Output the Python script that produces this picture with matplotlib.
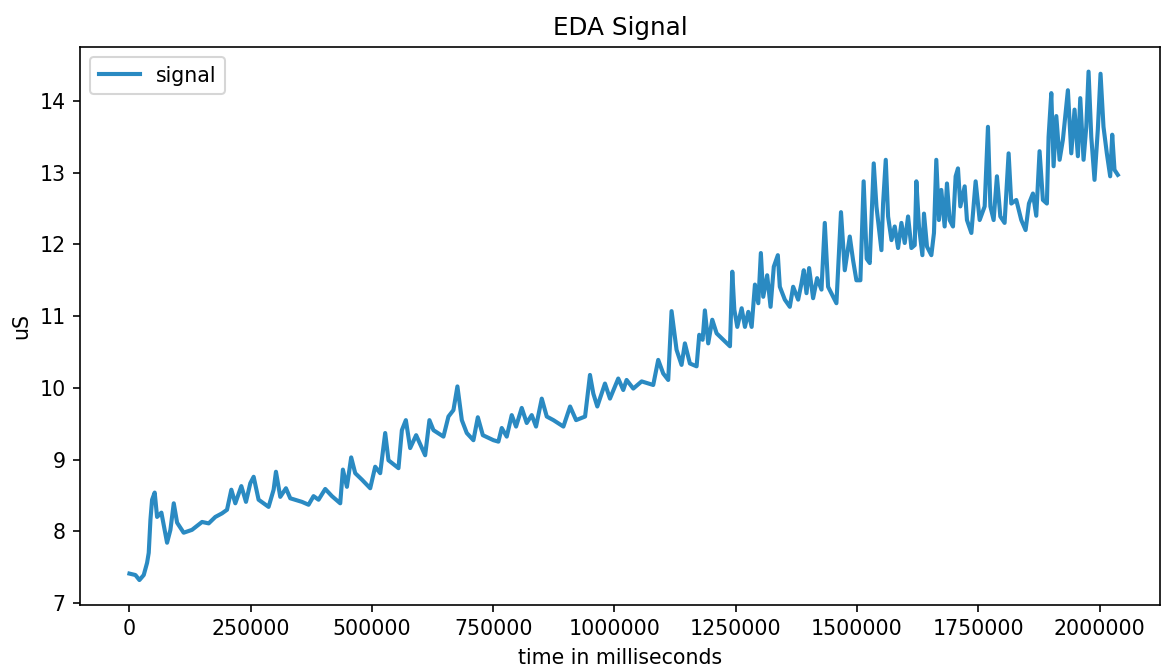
import matplotlib
matplotlib.use("Agg")
import matplotlib.pyplot as plt
from matplotlib.ticker import ScalarFormatter

time_ms = [
    0, 12400, 20600, 29500, 36400, 39800, 43300, 46700, 52100, 57000,
    65900, 77600, 84500, 91400, 98300, 111800, 129000, 149700, 163400, 177100,
    190900, 201200, 210100, 218300, 230700, 240300, 249200, 256100, 266300, 286900,
    297300, 302100, 311000, 322700, 331600, 355700, 369300, 379600, 389900, 403700,
    417500, 434600, 440100, 448400, 457200, 465500, 479300, 496400, 506700, 517000,
    527300, 534100, 554700, 561700, 569900, 578800, 591100, 609700, 618500, 626800,
    647400, 657700, 668000, 676200, 685300, 695500, 709200, 718300, 728600, 750500,
    760700, 767600, 777900, 788200, 797100, 808800, 819100, 829400, 838300, 850100,
    860400, 874100, 894700, 908500, 920900, 939400, 949500, 956400, 964600, 980400,
    990700, 1007800, 1018100, 1025000, 1038800, 1056000, 1079900, 1090200, 1100500, 1110800,
    1117700, 1128000, 1138300, 1145200, 1155500, 1169300, 1174800, 1181700, 1186400, 1193300,
    1201600, 1210600, 1224400, 1238100, 1242900, 1247100, 1253200, 1262200, 1269000, 1275900,
    1282800, 1289600, 1296500, 1301800, 1306700, 1314800, 1321800, 1328500, 1336800, 1340900,
    1351200, 1361500, 1368400, 1378700, 1385600, 1390300, 1395900, 1401300, 1409500, 1417800,
    1426800, 1433600, 1440400, 1457600, 1467000, 1474800, 1485100, 1491900, 1498800, 1507000,
    1513700, 1520000, 1526300, 1534500, 1540100, 1550400, 1553800, 1559300, 1564100, 1571100,
    1577800, 1584700, 1591600, 1598400, 1605300, 1612200, 1619000, 1622400, 1627800, 1634800,
    1638100, 1644300, 1653300, 1658700, 1663500, 1668900, 1673800, 1680700, 1685500, 1691000,
    1697900, 1703400, 1708200, 1713100, 1722000, 1726700, 1735800, 1744600, 1752900, 1763200,
    1770000, 1775000, 1781700, 1788500, 1795500, 1804300, 1812600, 1818100, 1828400, 1838700,
    1847600, 1854500, 1862700, 1869600, 1876400, 1883300, 1891500, 1895000, 1900600, 1905300,
    1910900, 1917700, 1924500, 1934800, 1941800, 1948500, 1955400, 1960300, 1967100, 1972700,
    1977400, 1983000, 1989700, 1996500, 2002100, 2008200, 2015100, 2022000, 2026200, 2030900,
    2037700,
]

eda_us = [
    7.41, 7.39, 7.32, 7.39, 7.56, 7.70, 8.16, 8.44, 8.54, 8.20,
    8.26, 7.84, 8.02, 8.39, 8.12, 7.98, 8.02, 8.13, 8.11, 8.20,
    8.25, 8.30, 8.58, 8.39, 8.63, 8.41, 8.67, 8.76, 8.44, 8.34,
    8.58, 8.83, 8.48, 8.60, 8.46, 8.41, 8.37, 8.49, 8.44, 8.59,
    8.49, 8.39, 8.86, 8.62, 9.03, 8.81, 8.72, 8.60, 8.90, 8.81,
    9.37, 8.99, 8.88, 9.41, 9.55, 9.16, 9.34, 9.06, 9.55, 9.41,
    9.32, 9.60, 9.69, 10.02, 9.55, 9.37, 9.27, 9.59, 9.34, 9.27,
    9.25, 9.44, 9.32, 9.62, 9.46, 9.72, 9.51, 9.62, 9.46, 9.85,
    9.60, 9.55, 9.46, 9.74, 9.55, 9.60, 10.18, 9.92, 9.74, 10.06,
    9.85, 10.13, 9.97, 10.11, 9.99, 10.09, 10.04, 10.39, 10.20, 10.11,
    11.07, 10.53, 10.32, 10.62, 10.34, 10.30, 10.74, 10.67, 11.08, 10.62,
    10.95, 10.76, 10.67, 10.58, 11.62, 11.09, 10.85, 11.11, 10.85, 11.06,
    10.85, 11.44, 11.18, 11.88, 11.27, 11.57, 11.13, 11.69, 11.85, 11.41,
    11.23, 11.13, 11.41, 11.23, 11.46, 11.64, 11.32, 11.67, 11.25, 11.53,
    11.37, 12.30, 11.41, 11.18, 12.45, 11.64, 12.11, 11.78, 11.50, 11.50,
    12.88, 11.80, 11.74, 13.13, 12.53, 11.92, 12.57, 13.18, 12.39, 12.06,
    12.25, 11.95, 12.30, 12.02, 12.39, 11.95, 11.99, 12.88, 12.25, 11.85,
    12.43, 11.97, 11.85, 12.16, 13.18, 12.34, 12.76, 12.25, 12.85, 12.34,
    12.25, 12.95, 13.06, 12.53, 12.81, 12.34, 12.16, 12.88, 12.34, 12.53,
    13.64, 12.53, 12.34, 12.95, 12.39, 12.30, 13.27, 12.57, 12.62, 12.34,
    12.20, 12.57, 12.71, 12.40, 13.30, 12.62, 12.57, 13.50, 14.11, 13.09,
    13.79, 13.18, 13.46, 14.15, 13.27, 13.88, 13.23, 14.04, 13.18, 13.64,
    14.41, 13.50, 12.90, 13.60, 14.38, 13.64, 13.27, 12.95, 13.53, 13.04,
    12.97,
]

x_ticks = [0, 250000, 500000, 750000, 1000000, 1250000, 1500000, 1750000, 2000000]
y_ticks = [7, 8, 9, 10, 11, 12, 13, 14]

DPI = 148
fig = plt.figure(figsize=(1163 / DPI, 669 / DPI), dpi=DPI)
ax = fig.add_axes([80 / 1163, 1 - 605 / 669, (1160 - 80) / 1163, (605 - 47) / 669])

ax.plot(time_ms, eda_us, color="#2a8ac2", linewidth=2.0, label="signal")

ax.set_xlim(-101900, 2124700)
ax.set_ylim(6.972, 14.753)
ax.set_xticks(x_ticks)
ax.set_yticks(y_ticks)
fmt = ScalarFormatter(useOffset=False)
fmt.set_scientific(False)
ax.xaxis.set_major_formatter(fmt)

ax.set_title("EDA Signal")
ax.set_xlabel("time in milliseconds")
ax.set_ylabel("uS")
ax.legend(loc="upper left")

fig.savefig("out.png", dpi=DPI)
